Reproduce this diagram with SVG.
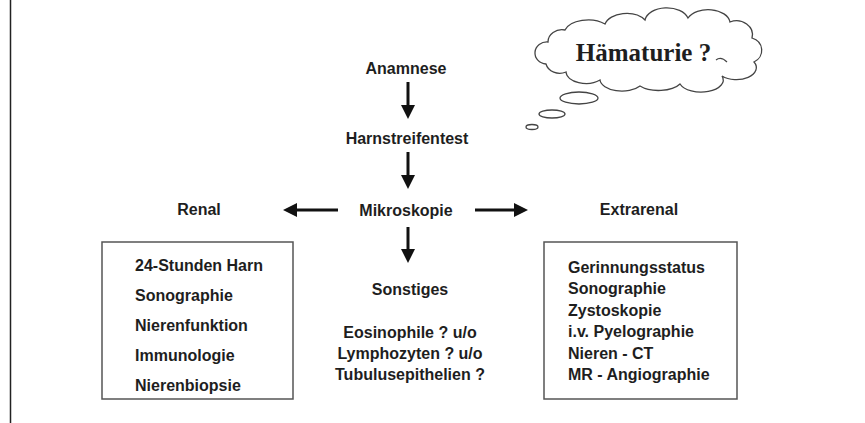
<svg xmlns="http://www.w3.org/2000/svg" width="865" height="423" viewBox="0 0 865 423">
<style>
.t{font-family:"Liberation Sans",Arial,sans-serif;font-weight:bold;font-size:16px;fill:#1e1e1e}
.c{text-anchor:middle}
.box{fill:none;stroke:#555;stroke-width:1.5}
.arr{stroke:#111;stroke-width:3;fill:none}
.cl{fill:#fff;stroke:#444;stroke-width:1.3}
</style>
<defs>
<marker id="ah" markerUnits="userSpaceOnUse" markerWidth="14" markerHeight="14" refX="2" refY="7" orient="auto">
<path d="M0,0 L14,7 L0,14 z" fill="#111"/>
</marker>
</defs>
<rect width="865" height="423" fill="#fff"/>
<line x1="10.5" y1="0" x2="10.5" y2="423" stroke="#222" stroke-width="1.5"/>

<g id="cloud">
<path class="cl" d="M 548,42 A 14,12 0 0 1 565,30 A 24,14 0 0 1 605,24 A 22,14 0 0 1 645,20 A 22,14 0 0 1 688,18 A 22,14 0 0 1 730,22 A 16,14 0 0 1 752,38 A 14,13 0 0 1 754,62 A 20,12 0 0 1 722,76 A 22,12 0 0 1 680,84 A 24,12 0 0 1 640,86 A 22,12 0 0 1 600,80 A 20,12 0 0 1 566,72 A 14,12 0 0 1 546,64 A 12,11 0 0 1 548,42 Z"/>
<path d="M 716,60 q 5,-4 11,2" fill="none" stroke="#444" stroke-width="1.2"/>
<text x="643.5" y="61" text-anchor="middle" font-family="'Liberation Serif','Times New Roman',serif" font-weight="bold" font-size="25" fill="#1e1e1e">Hämaturie ?</text>
<ellipse class="cl" cx="579" cy="98" rx="19" ry="6"/>
<ellipse class="cl" cx="552" cy="114" rx="13" ry="4"/>
<ellipse class="cl" cx="532" cy="127" rx="6" ry="2.5"/>
</g>

<g id="anamnese"><text class="t c" x="406" y="74">Anamnese</text></g>
<g id="harnstreifentest"><text class="t c" x="407" y="144">Harnstreifentest</text></g>
<g id="mikroskopie"><text class="t c" x="406" y="216">Mikroskopie</text></g>
<g id="renal-label"><text class="t c" x="199" y="215">Renal</text></g>
<g id="extrarenal-label"><text class="t c" x="639" y="215">Extrarenal</text></g>

<g id="renal-box">
<rect class="box" x="102" y="242" width="191" height="157"/>
<text class="t" x="135" y="271">24-Stunden Harn</text>
<text class="t" x="135" y="301">Sonographie</text>
<text class="t" x="135" y="331">Nierenfunktion</text>
<text class="t" x="135" y="361">Immunologie</text>
<text class="t" x="135" y="391">Nierenbiopsie</text>
</g>

<g id="sonstiges">
<text class="t c" x="410" y="295">Sonstiges</text>
<text class="t c" x="410" y="338">Eosinophile ? u/o</text>
<text class="t c" x="410" y="359">Lymphozyten ? u/o</text>
<text class="t c" x="410" y="380">Tubulusepithelien ?</text>
</g>

<g id="extrarenal-box">
<rect class="box" x="544" y="242" width="193" height="157"/>
<text class="t" x="568" y="273">Gerinnungsstatus</text>
<text class="t" x="568" y="294">Sonographie</text>
<text class="t" x="568" y="316">Zystoskopie</text>
<text class="t" x="568" y="337">i.v. Pyelographie</text>
<text class="t" x="568" y="359">Nieren - CT</text>
<text class="t" x="568" y="380">MR - Angiographie</text>
</g>

<g id="connectors">
<line class="arr" x1="408" y1="82" x2="408" y2="107" marker-end="url(#ah)"/>
<line class="arr" x1="408" y1="152" x2="408" y2="177" marker-end="url(#ah)"/>
<line class="arr" x1="408" y1="227" x2="408" y2="251" marker-end="url(#ah)"/>
<line class="arr" x1="338" y1="210" x2="295" y2="210" marker-end="url(#ah)"/>
<line class="arr" x1="475" y1="210" x2="516" y2="210" marker-end="url(#ah)"/>
</g>
</svg>
